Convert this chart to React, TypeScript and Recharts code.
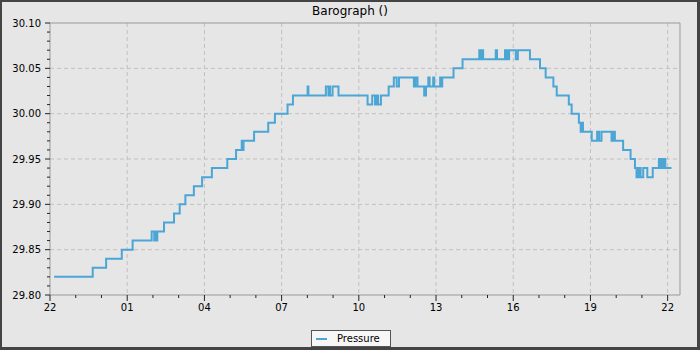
import { LineChart, Line, XAxis, YAxis, CartesianGrid, ReferenceArea } from 'recharts';

// hours after 22:00
const hours = [
  0.16, 1.66, 2.18, 2.79, 3.21, 3.95, 4.05, 4.08, 4.13, 4.17, 4.43, 4.82, 5.04, 5.26, 5.59, 5.91,
  6.29, 6.89, 7.23, 7.45, 7.49, 7.52, 7.93, 8.48, 8.74, 9.23, 9.44, 10.01, 10.04, 10.72, 10.82,
  10.86, 10.88, 10.98, 11.21, 12.34, 12.52, 12.63, 12.7, 12.75, 12.86, 13.16, 13.36, 13.47, 13.56,
  14.14, 14.2, 14.28, 14.54, 14.61, 14.7, 14.75, 14.89, 14.93, 15.16, 15.2, 15.24, 15.68, 16.03,
  16.68, 16.73, 16.8, 16.83, 17.32, 17.37, 17.68, 17.74, 17.77, 17.81, 17.84, 18.1, 18.18, 18.65,
  19.04, 19.26, 19.56, 19.69, 20.16, 20.27, 20.55, 20.62, 20.67, 20.71, 21.05, 21.26, 21.34, 21.43,
  21.82, 21.88, 21.95, 22.27, 22.56, 22.73, 22.79, 22.82, 22.86, 22.9, 22.95, 23.05, 23.21, 23.42,
  23.66, 23.73, 23.77, 23.82, 23.85, 23.91, 24.15,
];

const pressure = [
  29.82, 29.83, 29.84, 29.85, 29.86, 29.87, 29.86, 29.87, 29.86, 29.87, 29.88, 29.89, 29.9, 29.91,
  29.92, 29.93, 29.94, 29.95, 29.96, 29.97, 29.96, 29.97, 29.98, 29.99, 30.0, 30.01, 30.02, 30.03,
  30.02, 30.03, 30.02, 30.03, 30.02, 30.03, 30.02, 30.01, 30.02, 30.01, 30.02, 30.01, 30.02, 30.03,
  30.04, 30.03, 30.04, 30.03, 30.04, 30.03, 30.02, 30.03, 30.04, 30.03, 30.04, 30.03, 30.04, 30.03,
  30.04, 30.05, 30.06, 30.07, 30.06, 30.07, 30.06, 30.07, 30.06, 30.07, 30.06, 30.07, 30.06, 30.07,
  30.06, 30.07, 30.06, 30.05, 30.04, 30.03, 30.02, 30.01, 30.0, 29.99, 29.98, 29.99, 29.98, 29.97,
  29.98, 29.97, 29.98, 29.97, 29.98, 29.97, 29.96, 29.95, 29.94, 29.93, 29.94, 29.93, 29.94, 29.93,
  29.94, 29.93, 29.94, 29.95, 29.94, 29.95, 29.94, 29.95, 29.94, 29.94,
];

const xMajorTicks = [0, 3, 6, 9, 12, 15, 18, 21, 24];
const xTickLabels = ['22', '01', '04', '07', '10', '13', '16', '19', '22'];
const xMinorTicks = [1, 2, 4, 5, 7, 8, 10, 11, 13, 14, 16, 17, 19, 20, 22, 23];

const yMajorTicks = [29.8, 29.85, 29.9, 29.95, 30.0, 30.05, 30.1];
const yTickLabels = ['29.80', '29.85', '29.90', '29.95', '30.00', '30.05', '30.10'];
const yMinorTicks = [
  29.81, 29.82, 29.83, 29.84, 29.86, 29.87, 29.88, 29.89, 29.91, 29.92, 29.93, 29.94, 29.96, 29.97,
  29.98, 29.99, 30.01, 30.02, 30.03, 30.04, 30.06, 30.07, 30.08, 30.09,
];

const X_MAX = 24.48;
const FONT = '"DejaVu Sans", sans-serif';
const LINE_COLOR = '#4ba6d6';

const data = hours.map((t, i) => ({ t, p: pressure[i] }));

const findIdx = (arr: number[], v: number) => arr.findIndex((a) => Math.abs(a - v) < 1e-6);

function XTick(props: any) {
  const { x, y, payload } = props;
  const i = findIdx(xMajorTicks, payload.value);
  if (i < 0) return <line x1={x} x2={x} y1={y} y2={y + 3} stroke="#222" />;
  return (
    <g>
      <line x1={x} x2={x} y1={y} y2={y + 6} stroke="#222" />
      <text x={x} y={y + 16} textAnchor="middle" fontSize={10} fontFamily={FONT} fill="#000">
        {xTickLabels[i]}
      </text>
    </g>
  );
}

function YTick(props: any) {
  const { x, y, payload } = props;
  const i = findIdx(yMajorTicks, payload.value);
  if (i < 0) return <line x1={x - 3} x2={x} y1={y} y2={y} stroke="#222" />;
  return (
    <g>
      <line x1={x - 5} x2={x} y1={y} y2={y} stroke="#222" />
      <text x={x - 9} y={y} dy="0.36em" textAnchor="end" fontSize={10} fontFamily={FONT} fill="#000">
        {yTickLabels[i]}
      </text>
    </g>
  );
}

export default function App() {
  const xTicks = [...xMajorTicks, ...xMinorTicks].sort((a, b) => a - b);
  const yTicks = [...yMajorTicks, ...yMinorTicks].sort((a, b) => a - b);

  return (
    <div style={{ position: 'absolute', left: 0, top: 0, width: 700, height: 350, background: '#e6e6e6' }}>
      <div
        style={{
          position: 'absolute',
          left: 0,
          top: 0,
          width: 700,
          textAlign: 'center',
          fontFamily: FONT,
          fontSize: 12,
          lineHeight: '22px',
          color: '#000',
          paddingLeft: 0,
        }}
      >
        Barograph ()
      </div>
      <LineChart width={700} height={350} data={data} margin={{ top: 23, right: 20, bottom: 0, left: 0 }}>
        <CartesianGrid
          stroke="#c0c0c0"
          strokeDasharray="4 3"
          verticalValues={xMajorTicks.slice(1)}
          horizontalValues={yMajorTicks.slice(1, -1)}
        />
        <XAxis
          dataKey="t"
          type="number"
          domain={[0, X_MAX]}
          allowDataOverflow
          ticks={xTicks}
          interval={0}
          height={55}
          axisLine={false}
          tickLine={false}
          tickSize={0}
          tickMargin={0}
          tick={<XTick />}
        />
        <YAxis
          type="number"
          domain={[29.8, 30.1]}
          allowDataOverflow
          ticks={yTicks}
          interval={0}
          width={50}
          axisLine={false}
          tickLine={false}
          tickSize={0}
          tickMargin={0}
          tick={<YTick />}
        />
        <ReferenceArea x1={0} x2={X_MAX} y1={29.8} y2={30.1} fill="none" stroke="#999" strokeWidth={1} />
        <Line
          type="stepAfter"
          dataKey="p"
          stroke={LINE_COLOR}
          strokeWidth={2}
          dot={false}
          isAnimationActive={false}
        />
      </LineChart>
      <div
        style={{
          position: 'absolute',
          left: 311,
          top: 330,
          width: 80,
          height: 17,
          boxSizing: 'border-box',
          border: '1px solid #555',
          background: '#f7f7f7',
          fontFamily: FONT,
          fontSize: 10,
          lineHeight: '15px',
          color: '#000',
        }}
      >
        <span
          style={{
            position: 'absolute',
            left: 4,
            top: 7,
            width: 11,
            height: 2,
            background: LINE_COLOR,
          }}
        />
        <span style={{ position: 'absolute', left: 25, top: 0 }}>Pressure</span>
      </div>
      <div
        style={{
          position: 'absolute',
          left: 0,
          top: 0,
          width: 700,
          height: 350,
          boxSizing: 'border-box',
          borderStyle: 'solid',
          borderColor: '#444',
          borderWidth: '2px 3px 3px 2px',
          pointerEvents: 'none',
        }}
      />
    </div>
  );
}
